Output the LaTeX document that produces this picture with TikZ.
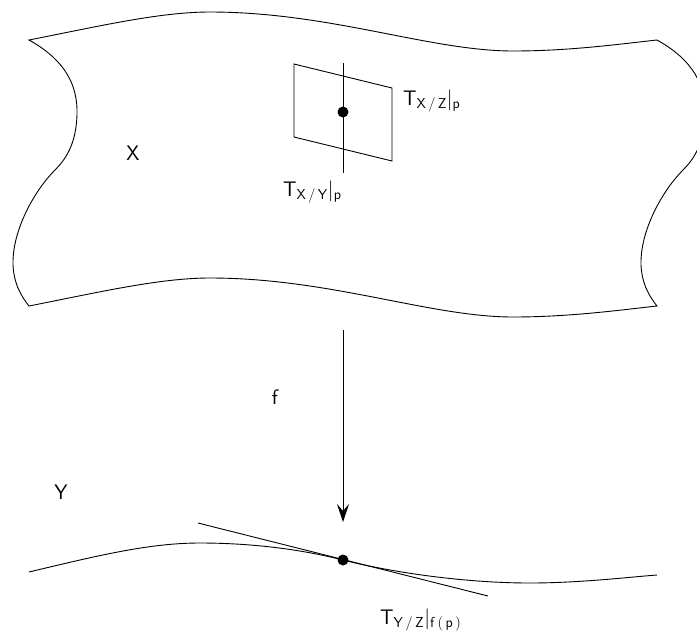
\documentclass[tikz,border=0pt]{standalone}
\usetikzlibrary{arrows.meta}
\begin{document}
\begin{tikzpicture}[x=1pt,y=-1pt,
  line/.style={line width=0.9pt, black},
  lbl/.style={font=\sffamily\fontsize{21}{25}\selectfont, inner sep=0pt},
  dotnode/.style={circle, fill=black, inner sep=0pt, minimum size=11pt}]
\useasboundingbox (0,0) rectangle (697,633);
\begin{scope}
\clip (0,0) rectangle (697,633);
% sheet X
\draw[line, line join=miter] (29,40)
  .. controls (100,26) and (160,12) .. (210,12)
  .. controls (330,12) and (430,51) .. (513,51)
  .. controls (570,51) and (620,44) .. (657,40)
  .. controls (693,60) and (706,85) .. (705,115)
  .. controls (704,145) and (693,160) .. (683,170)
  .. controls (663,190) and (640,230) .. (641,265)
  .. controls (642,285) and (650,297) .. (657,306)
  .. controls (620,310) and (570,317) .. (513,317)
  .. controls (430,317) and (330,278) .. (210,278)
  .. controls (160,278) and (100,292) .. (29,306)
  .. controls (22,297) and (14,285) .. (13,265)
  .. controls (12,230) and (35,190) .. (55,170)
  .. controls (65,160) and (76,145) .. (77,115)
  .. controls (78,85) and (65,60) .. cycle;
\end{scope}
% tangent plane
\coordinate (q1) at (294,64);
\coordinate (q2) at (392,88);
\coordinate (q3) at (392,161);
\coordinate (q4) at (294,137);
\draw[line] (q1) -- (q2) -- (q3) -- (q4) -- cycle;
\coordinate (v1) at (343,63);
\coordinate (v2) at (343,173);
\draw[line] (v1) -- (v2);
\node[dotnode] (p) at (343,112) {};
% labels upper
\node[lbl, anchor=base west] (txz) at (403,105) {T$_{\mathsf{X\,/\,Z}}|_{\mathsf{p}}$};
\node[lbl, anchor=base west] (txy) at (283,196) {T$_{\mathsf{X\,/\,Y}}|_{\mathsf{p}}$};
\node[lbl] (X) at (133,153) {X};
\node[lbl] (Y) at (61,492) {Y};
\node[lbl] (f) at (275,397) {f};
% arrow
\coordinate (a1) at (343,330);
\coordinate (a2) at (343,522);
\draw[line, -{Stealth[length=18pt,width=12pt,inset=7pt]}] (a1) -- (a2);
% curve Y
\coordinate (c0) at (29,572);
\coordinate (fp) at (343,560);
\coordinate (c4) at (657,575);
\draw[line] (c0)
  .. controls (100,555) and (150,543) .. (200,543)
  .. controls (250,543) and (300,549) .. (fp)
  .. controls (386,571) and (460,583) .. (530,583)
  .. controls (580,583) and (630,577) .. (c4);
% tangent line
\coordinate (t1) at (198,523);
\coordinate (t2) at (488,596);
\draw[line] (t1) -- (t2);
\node[dotnode] (fpdot) at (fp) {};
\node[lbl, anchor=base west] (tyz) at (380,624) {T$_{\mathsf{Y\,/\,Z}}|_{\mathsf{f\,(\,p\,)}}$};
\end{tikzpicture}
\end{document}
